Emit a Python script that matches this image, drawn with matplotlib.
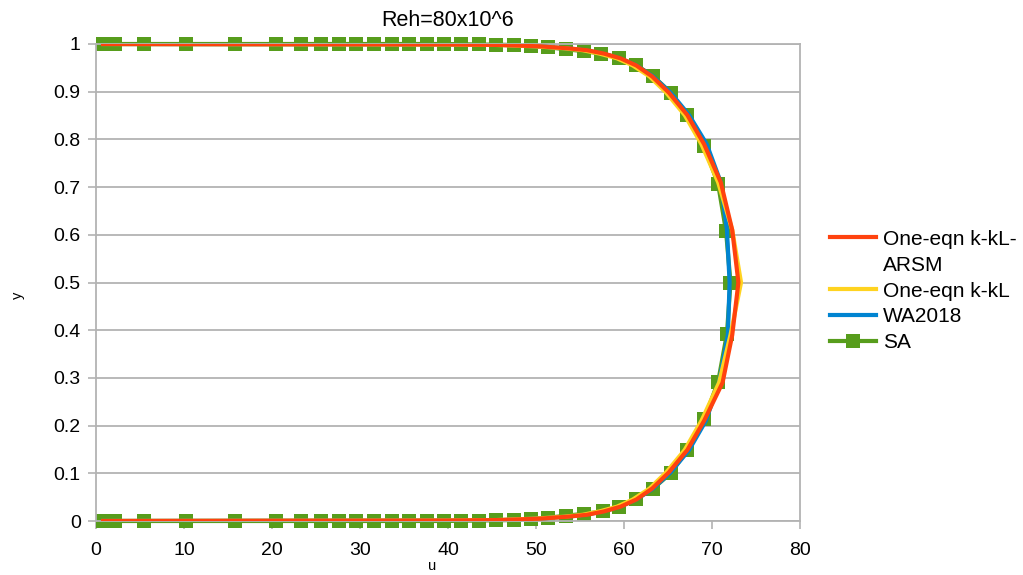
import matplotlib
matplotlib.use("Agg")
import matplotlib.pyplot as plt
from matplotlib.lines import Line2D

plt.rcParams['font.family'] = ['Liberation Sans', 'DejaVu Sans']

# Data (velocity profile, Reh = 80x10^6)
y_lines = [0.0, 0.0005, 0.001, 0.002, 0.005, 0.009, 0.013, 0.02, 0.03, 0.045,
           0.068, 0.102, 0.149, 0.21, 0.29, 0.39, 0.5, 0.61, 0.71, 0.79,
           0.851, 0.898, 0.932, 0.955, 0.97, 0.98, 0.987, 0.991, 0.995, 0.998,
           0.999, 0.9995, 1.0]
u_arsm = [0.8, 20.0, 40.0, 46.0, 50.5, 53.6, 55.8, 57.7, 59.6, 61.4,
          63.2, 65.1, 67.2, 69.1, 71.2, 72.3, 73.0, 72.3, 71.0, 69.1,
          67.2, 65.1, 63.2, 61.4, 59.6, 57.7, 55.8, 53.6, 50.5, 46.0,
          40.0, 20.0, 0.8]
u_kkl = [0.8, 20.0, 40.0, 45.5, 50.0, 53.2, 55.3, 57.2, 59.2, 61.0,
         62.9, 64.8, 66.9, 68.8, 70.8, 72.1, 73.3, 72.3, 70.7, 68.8,
         66.9, 64.8, 62.9, 61.0, 59.2, 57.2, 55.3, 53.2, 50.0, 45.5,
         40.0, 20.0, 0.8]
u_wa = [0.8, 20.0, 40.0, 46.0, 50.3, 53.5, 55.6, 57.5, 59.5, 61.4,
        63.3, 65.3, 67.4, 69.3, 70.8, 71.8, 72.0, 71.7, 71.0, 69.4,
        67.4, 65.3, 63.3, 61.4, 59.5, 57.5, 55.6, 53.5, 50.3, 46.0,
        40.0, 20.0, 0.8]

u_sa = [0.8, 2.2, 5.4, 10.2, 15.8, 20.4, 23.3, 25.6, 27.6, 29.6, 31.6, 33.6,
        35.6, 37.6, 39.5, 41.5, 43.5, 45.5, 47.5, 49.4, 51.4, 53.4, 55.4,
        57.6, 59.4, 61.4, 63.3, 65.3, 67.2, 69.1, 70.7, 71.7,
        72.1,
        71.6, 70.7, 69.1, 67.2, 65.3, 63.3, 61.4, 59.4, 57.4, 55.4, 53.4,
        51.4, 49.4, 47.5, 45.5, 43.5, 41.5, 39.5, 37.6, 35.6, 33.6, 31.6,
        29.6, 27.6, 25.6, 23.3, 20.4, 15.8, 10.2, 5.4, 2.2, 0.8]
y_sa = [0.0, 0.0, 0.0, 0.0, 0.0, 0.0, 0.0, 0.0, 0.0, 0.0, 0.0, 0.0,
        0.0, 0.0, 0.0, 0.0005, 0.001, 0.0015, 0.002, 0.004, 0.007, 0.011, 0.015,
        0.02, 0.029, 0.047, 0.068, 0.1, 0.149, 0.213, 0.292, 0.393,
        0.5,
        0.607, 0.706, 0.786, 0.851, 0.898, 0.933, 0.955, 0.971, 0.98, 0.985, 0.989,
        0.993, 0.995, 0.998, 0.9985, 0.999, 0.9995, 1.0, 1.0, 1.0, 1.0, 1.0,
        1.0, 1.0, 1.0, 1.0, 1.0, 1.0, 1.0, 1.0, 1.0, 1.0]

x_ticks = [0, 10, 20, 30, 40, 50, 60, 70, 80]
y_ticks = [0, 0.1, 0.2, 0.3, 0.4, 0.5, 0.6, 0.7, 0.8, 0.9, 1]
y_tick_labels = ["0", "0.1", "0.2", "0.3", "0.4", "0.5", "0.6", "0.7", "0.8", "0.9", "1"]

grid_col = "#b3b3b3"

fig = plt.figure(figsize=(10.23, 5.75), dpi=100)
ax = fig.add_axes([96 / 1023, 54 / 575, 704 / 1023, 477 / 575])

sa, = ax.plot(u_sa, y_sa, color="#579d1c", lw=3, marker="s", ms=9.5,
              markeredgewidth=0, zorder=2, clip_on=False)
wa, = ax.plot(u_wa, y_lines, color="#0084d1", lw=3, zorder=3)
kkl, = ax.plot(u_kkl, y_lines, color="#ffd320", lw=3, zorder=4)
arsm, = ax.plot(u_arsm, y_lines, color="#ff420e", lw=3, zorder=5)

ax.set_xlim(0, 80)
ax.set_ylim(0, 1)
ax.set_xticks(x_ticks)
ax.set_yticks(y_ticks)
ax.set_yticklabels(y_tick_labels)
ax.tick_params(labelsize=14, length=6, width=1.2, color=grid_col)
ax.tick_params(axis="x", pad=9)
ax.tick_params(axis="y", pad=5)
ax.yaxis.grid(True, color=grid_col, lw=1.3)
ax.set_axisbelow(True)
for s in ax.spines.values():
    s.set_color(grid_col)
    s.set_linewidth(1.3)

ax.set_title("Reh=80x10^6", fontsize=15.5, pad=13)
fig.text(18 / 1023, 1 - 295 / 575, "y", rotation=90, fontsize=10.5,
         ha="center", va="center")
fig.text(432 / 1023, 1 - 566 / 575, "u", fontsize=10.5, ha="center", va="center")

blank = Line2D([], [], color="none")
ax.legend([arsm, blank, kkl, wa, sa],
          ["One-eqn k-kL-", "ARSM", "One-eqn k-kL", "WA2018", "SA"],
          loc="center left", bbox_to_anchor=(830 / 1023, 1 - 291 / 575),
          bbox_transform=fig.transFigure, frameon=False, fontsize=15,
          handlelength=2.2, handletextpad=0.35, labelspacing=0.33, borderpad=0,
          borderaxespad=0)

fig.savefig("out.png", dpi=100)
